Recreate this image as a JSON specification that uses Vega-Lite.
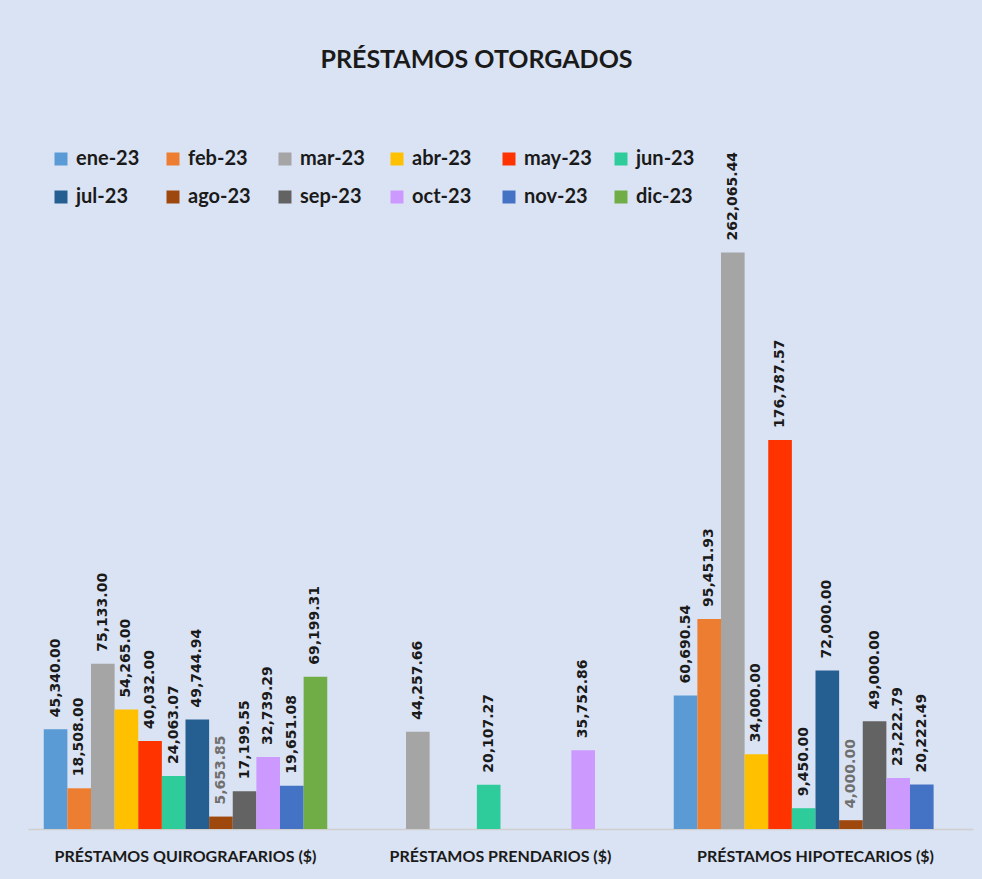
{
  "$schema": "https://vega.github.io/schema/vega-lite/v6.json",
  "width": 945,
  "height": 616,
  "autosize": {"type": "none"},
  "padding": {"left": 28, "top": 213, "right": 9, "bottom": 50},
  "background": "#dae3f3",
  "title": {
    "text": "PRÉSTAMOS OTORGADOS",
    "font": "Lato",
    "fontSize": 25,
    "fontWeight": "bold",
    "color": "#1a1a1a",
    "anchor": "middle",
    "dx": -24,
    "offset": 76
  },
  "config": {
    "view": {"stroke": null},
    "font": "Lato"
  },
  "data": {
    "values": [
      {"tipo": "PRÉSTAMOS QUIROGRAFARIOS ($)", "mes": "ene-23", "valor": 45340.00},
      {"tipo": "PRÉSTAMOS QUIROGRAFARIOS ($)", "mes": "feb-23", "valor": 18508.00},
      {"tipo": "PRÉSTAMOS QUIROGRAFARIOS ($)", "mes": "mar-23", "valor": 75133.00},
      {"tipo": "PRÉSTAMOS QUIROGRAFARIOS ($)", "mes": "abr-23", "valor": 54265.00},
      {"tipo": "PRÉSTAMOS QUIROGRAFARIOS ($)", "mes": "may-23", "valor": 40032.00},
      {"tipo": "PRÉSTAMOS QUIROGRAFARIOS ($)", "mes": "jun-23", "valor": 24063.07},
      {"tipo": "PRÉSTAMOS QUIROGRAFARIOS ($)", "mes": "jul-23", "valor": 49744.94},
      {"tipo": "PRÉSTAMOS QUIROGRAFARIOS ($)", "mes": "ago-23", "valor": 5653.85},
      {"tipo": "PRÉSTAMOS QUIROGRAFARIOS ($)", "mes": "sep-23", "valor": 17199.55},
      {"tipo": "PRÉSTAMOS QUIROGRAFARIOS ($)", "mes": "oct-23", "valor": 32739.29},
      {"tipo": "PRÉSTAMOS QUIROGRAFARIOS ($)", "mes": "nov-23", "valor": 19651.08},
      {"tipo": "PRÉSTAMOS QUIROGRAFARIOS ($)", "mes": "dic-23", "valor": 69199.31},
      {"tipo": "PRÉSTAMOS PRENDARIOS ($)", "mes": "mar-23", "valor": 44257.66},
      {"tipo": "PRÉSTAMOS PRENDARIOS ($)", "mes": "jun-23", "valor": 20107.27},
      {"tipo": "PRÉSTAMOS PRENDARIOS ($)", "mes": "oct-23", "valor": 35752.86},
      {"tipo": "PRÉSTAMOS HIPOTECARIOS ($)", "mes": "ene-23", "valor": 60690.54},
      {"tipo": "PRÉSTAMOS HIPOTECARIOS ($)", "mes": "feb-23", "valor": 95451.93},
      {"tipo": "PRÉSTAMOS HIPOTECARIOS ($)", "mes": "mar-23", "valor": 262065.44},
      {"tipo": "PRÉSTAMOS HIPOTECARIOS ($)", "mes": "abr-23", "valor": 34000.00},
      {"tipo": "PRÉSTAMOS HIPOTECARIOS ($)", "mes": "may-23", "valor": 176787.57},
      {"tipo": "PRÉSTAMOS HIPOTECARIOS ($)", "mes": "jun-23", "valor": 9450.00},
      {"tipo": "PRÉSTAMOS HIPOTECARIOS ($)", "mes": "jul-23", "valor": 72000.00},
      {"tipo": "PRÉSTAMOS HIPOTECARIOS ($)", "mes": "ago-23", "valor": 4000.00},
      {"tipo": "PRÉSTAMOS HIPOTECARIOS ($)", "mes": "sep-23", "valor": 49000.00},
      {"tipo": "PRÉSTAMOS HIPOTECARIOS ($)", "mes": "oct-23", "valor": 23222.79},
      {"tipo": "PRÉSTAMOS HIPOTECARIOS ($)", "mes": "nov-23", "valor": 20222.49}
    ]
  },
  "encoding": {
    "x": {
      "field": "tipo",
      "type": "nominal",
      "sort": ["PRÉSTAMOS QUIROGRAFARIOS ($)", "PRÉSTAMOS PRENDARIOS ($)", "PRÉSTAMOS HIPOTECARIOS ($)"],
      "scale": {"paddingInner": 0.1, "paddingOuter": 0.05},
      "axis": {
        "title": null,
        "labelAngle": 0,
        "labelLimit": 0,
        "labelFont": "Lato",
        "labelFontSize": 16,
        "labelFontWeight": "bold",
        "labelColor": "#1a1a1a",
        "labelPadding": 19,
        "ticks": false,
        "domainColor": "#cfcfcf",
        "domainWidth": 1.5
      }
    },
    "xOffset": {
      "field": "mes",
      "type": "nominal",
      "scale": {"domain": ["ene-23", "feb-23", "mar-23", "abr-23", "may-23", "jun-23", "jul-23", "ago-23", "sep-23", "oct-23", "nov-23", "dic-23"], "paddingInner": 0, "paddingOuter": 0}
    },
    "y": {
      "field": "valor",
      "type": "quantitative",
      "scale": {"domain": [0, 280000], "nice": false},
      "axis": null
    }
  },
  "layer": [
    {
      "mark": {"type": "bar"},
      "encoding": {
        "color": {
          "field": "mes",
          "type": "nominal",
          "scale": {
            "domain": ["ene-23", "feb-23", "mar-23", "abr-23", "may-23", "jun-23", "jul-23", "ago-23", "sep-23", "oct-23", "nov-23", "dic-23"],
            "range": ["#5b9bd5", "#ed7d31", "#a5a5a5", "#ffc000", "#ff3300", "#2ecc9a", "#255e91", "#9e480e", "#636363", "#cc99ff", "#4472c4", "#70ad47"]
          },
          "legend": {
            "title": null,
            "orient": "none",
            "legendX": 23,
            "legendY": -64,
            "direction": "horizontal",
            "columns": 6,
            "gridAlign": "all",
            "columnPadding": 19,
            "rowPadding": 18,
            "symbolType": "square",
            "symbolSize": 169,
            "symbolStrokeWidth": 0,
            "labelFont": "Lato",
            "labelFontSize": 20,
            "labelFontWeight": "bold",
            "labelColor": "#1a1a1a",
            "labelOffset": 5
          }
        }
      }
    },
    {
      "mark": {"type": "text", "angle": 270, "align": "left", "baseline": "middle", "dx": 12, "font": "DejaVu Sans", "fontSize": 14, "fontWeight": "bold"},
      "encoding": {
        "text": {"field": "valor", "type": "quantitative", "format": ",.2f"},
        "color": {
          "condition": {"test": "datum.mes === 'ago-23'", "value": "#6f6f6f"},
          "value": "#1a1a1a"
        }
      }
    }
  ]
}
